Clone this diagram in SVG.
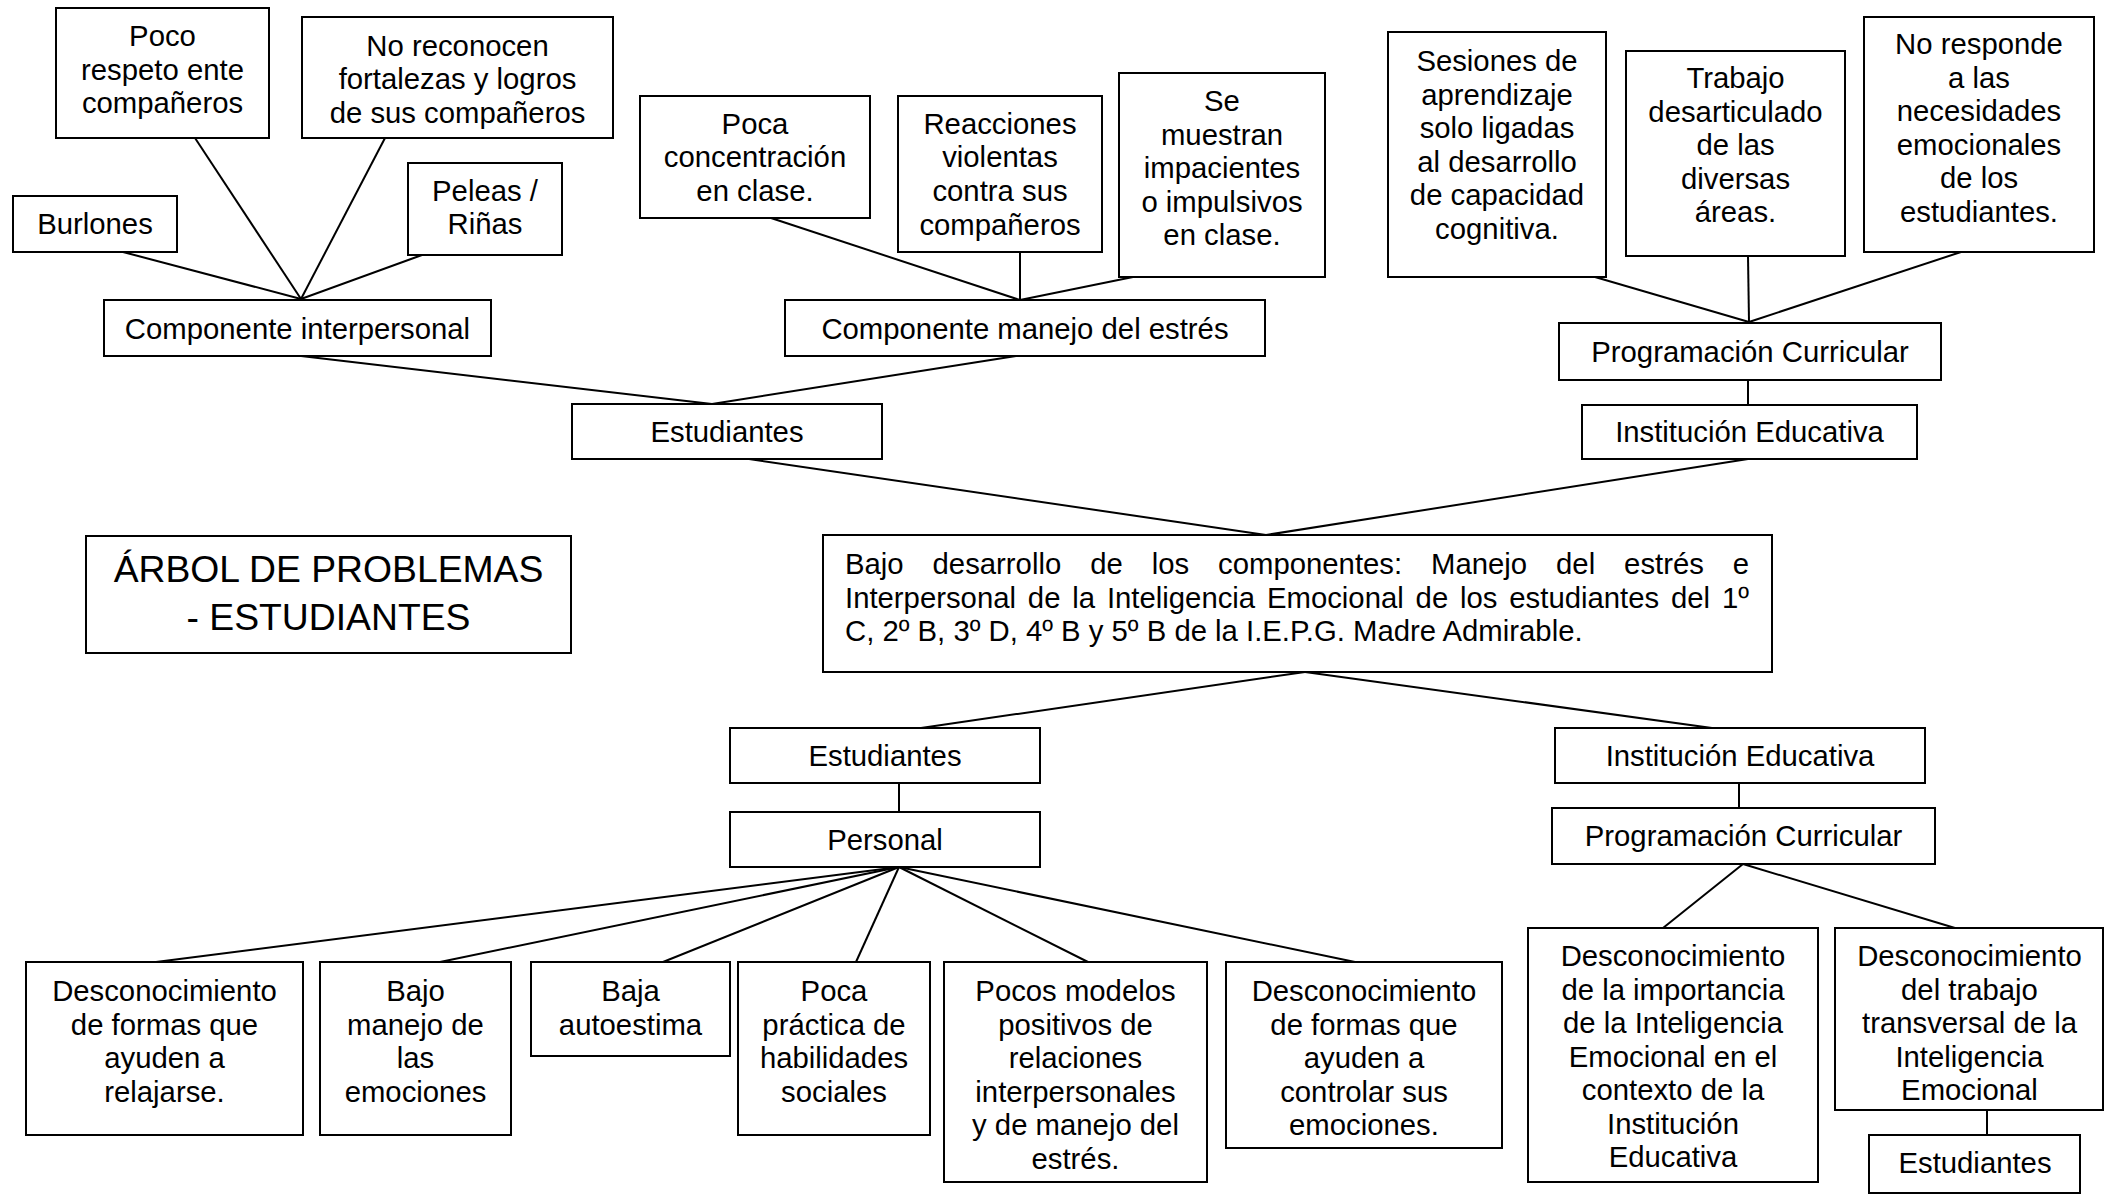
<svg xmlns="http://www.w3.org/2000/svg" width="2105" height="1195" viewBox="0 0 2105 1195">
<style>
.b{fill:#fff;stroke:#000;stroke-width:2}
.t{font-family:"Liberation Sans",Arial,sans-serif;font-size:29.3px;text-anchor:middle;fill:#000}
.j{font-family:"Liberation Sans",Arial,sans-serif;font-size:29.3px;text-anchor:start;fill:#000}
.h{font-family:"Liberation Sans",Arial,sans-serif;font-size:37.3px;text-anchor:middle;fill:#000}
.c line{stroke:#000;stroke-width:2}
</style>
<rect width="2105" height="1195" fill="#fff"/>
<g class="c" id="connectors">
<line x1="123" y1="252" x2="301" y2="299"/>
<line x1="195" y1="138" x2="301" y2="299"/>
<line x1="385" y1="138" x2="301" y2="299"/>
<line x1="422" y1="255" x2="301" y2="299"/>
<line x1="301" y1="356" x2="712" y2="404"/>
<line x1="1016" y1="356" x2="712" y2="404"/>
<line x1="771" y1="218" x2="1020" y2="300"/>
<line x1="1020" y1="252" x2="1020" y2="300"/>
<line x1="1133" y1="277" x2="1020" y2="300"/>
<line x1="1595" y1="277" x2="1749" y2="322"/>
<line x1="1748" y1="256" x2="1749" y2="322"/>
<line x1="1961" y1="252" x2="1749" y2="322"/>
<line x1="1748" y1="380" x2="1748" y2="405"/>
<line x1="749" y1="459" x2="1266" y2="535"/>
<line x1="1748" y1="459" x2="1266" y2="535"/>
<line x1="1305" y1="672" x2="921" y2="728"/>
<line x1="1305" y1="672" x2="1712" y2="728"/>
<line x1="899" y1="783" x2="899" y2="812"/>
<line x1="899" y1="867" x2="156" y2="962"/>
<line x1="899" y1="867" x2="440" y2="962"/>
<line x1="899" y1="867" x2="663" y2="962"/>
<line x1="899" y1="867" x2="856" y2="962"/>
<line x1="899" y1="867" x2="1088" y2="962"/>
<line x1="899" y1="867" x2="1355" y2="962"/>
<line x1="1739" y1="783" x2="1739" y2="808"/>
<line x1="1743" y1="864" x2="1663" y2="928"/>
<line x1="1743" y1="864" x2="1955" y2="928"/>
<line x1="1987" y1="1110" x2="1987" y2="1135"/>
</g>
<g id="n-poco"><rect class="b" x="56" y="8" width="213" height="130"/><text class="t"><tspan x="162.5" y="46">Poco</tspan><tspan x="162.5" y="80">respeto ente</tspan><tspan x="162.5" y="113">compañeros</tspan></text></g>
<g id="n-noreconocen"><rect class="b" x="302" y="17" width="311" height="121"/><text class="t"><tspan x="457.5" y="56">No reconocen</tspan><tspan x="457.5" y="89">fortalezas y logros</tspan><tspan x="457.5" y="123">de sus compañeros</tspan></text></g>
<g id="n-burlones"><rect class="b" x="13" y="196" width="164" height="56"/><text class="t" x="95" y="234">Burlones</text></g>
<g id="n-peleas"><rect class="b" x="408" y="163" width="154" height="92"/><text class="t"><tspan x="485" y="201">Peleas /</tspan><tspan x="485" y="234">Riñas</tspan></text></g>
<g id="n-ci"><rect class="b" x="104" y="300" width="387" height="56"/><text class="t" x="297.5" y="338.5">Componente interpersonal</text></g>
<g id="n-pocaconc"><rect class="b" x="640" y="96" width="230" height="122"/><text class="t"><tspan x="755" y="134">Poca</tspan><tspan x="755" y="167">concentración</tspan><tspan x="755" y="201">en clase.</tspan></text></g>
<g id="n-reacciones"><rect class="b" x="898" y="96" width="204" height="156"/><text class="t"><tspan x="1000" y="134">Reacciones</tspan><tspan x="1000" y="167">violentas</tspan><tspan x="1000" y="201">contra sus</tspan><tspan x="1000" y="235">compañeros</tspan></text></g>
<g id="n-semuestran"><rect class="b" x="1119" y="73" width="206" height="204"/><text class="t"><tspan x="1222" y="111">Se</tspan><tspan x="1222" y="144.5">muestran</tspan><tspan x="1222" y="178">impacientes</tspan><tspan x="1222" y="211.5">o impulsivos</tspan><tspan x="1222" y="245">en clase.</tspan></text></g>
<g id="n-cme"><rect class="b" x="785" y="300" width="480" height="56"/><text class="t" x="1025" y="338.5">Componente manejo del estrés</text></g>
<g id="n-sesiones"><rect class="b" x="1388" y="32" width="218" height="245"/><text class="t"><tspan x="1497" y="71">Sesiones de</tspan><tspan x="1497" y="104.5">aprendizaje</tspan><tspan x="1497" y="138">solo ligadas</tspan><tspan x="1497" y="171.5">al desarrollo</tspan><tspan x="1497" y="205">de capacidad</tspan><tspan x="1497" y="238.5">cognitiva.</tspan></text></g>
<g id="n-trabajo"><rect class="b" x="1626" y="51" width="219" height="205"/><text class="t"><tspan x="1735.5" y="88">Trabajo</tspan><tspan x="1735.5" y="121.5">desarticulado</tspan><tspan x="1735.5" y="155">de las</tspan><tspan x="1735.5" y="188.5">diversas</tspan><tspan x="1735.5" y="222">áreas.</tspan></text></g>
<g id="n-noresponde"><rect class="b" x="1864" y="17" width="230" height="235"/><text class="t"><tspan x="1979" y="54">No responde</tspan><tspan x="1979" y="87.5">a las</tspan><tspan x="1979" y="121">necesidades</tspan><tspan x="1979" y="154.5">emocionales</tspan><tspan x="1979" y="188">de los</tspan><tspan x="1979" y="221.5">estudiantes.</tspan></text></g>
<g id="n-pc-top"><rect class="b" x="1559" y="323" width="382" height="57"/><text class="t" x="1750" y="361.5">Programación Curricular</text></g>
<g id="n-ie-top"><rect class="b" x="1582" y="405" width="335" height="54"/><text class="t" x="1749.5" y="442">Institución Educativa</text></g>
<g id="n-est-top"><rect class="b" x="572" y="404" width="310" height="55"/><text class="t" x="727" y="442">Estudiantes</text></g>
<g id="n-central"><rect class="b" x="823" y="535" width="949" height="137"/><text class="j" x="845" y="574" style="word-spacing:20.8px">Bajo desarrollo de los componentes: Manejo del estrés e</text><text class="j" x="845" y="607.5" style="word-spacing:3.7px">Interpersonal de la Inteligencia Emocional de los estudiantes del 1º</text><text class="j" x="845" y="641">C, 2º B, 3º D, 4º B y 5º B de la I.E.P.G. Madre Admirable.</text></g>
<g id="n-titulo"><rect class="b" x="86" y="536" width="485" height="117"/><text class="h"><tspan x="328.5" y="582">ÁRBOL DE PROBLEMAS</tspan><tspan x="328.5" y="630">- ESTUDIANTES</tspan></text></g>
<g id="n-est-low"><rect class="b" x="730" y="728" width="310" height="55"/><text class="t" x="885" y="766">Estudiantes</text></g>
<g id="n-personal"><rect class="b" x="730" y="812" width="310" height="55"/><text class="t" x="885" y="850">Personal</text></g>
<g id="n-ie-low"><rect class="b" x="1555" y="728" width="370" height="55"/><text class="t" x="1740" y="766">Institución Educativa</text></g>
<g id="n-pc-low"><rect class="b" x="1552" y="808" width="383" height="56"/><text class="t" x="1743.5" y="845.5">Programación Curricular</text></g>
<g id="n-desc1"><rect class="b" x="26" y="962" width="277" height="173"/><text class="t"><tspan x="164.5" y="1001">Desconocimiento</tspan><tspan x="164.5" y="1034.5">de formas que</tspan><tspan x="164.5" y="1068">ayuden a</tspan><tspan x="164.5" y="1101.5">relajarse.</tspan></text></g>
<g id="n-bajomanejo"><rect class="b" x="320" y="962" width="191" height="173"/><text class="t"><tspan x="415.5" y="1001">Bajo</tspan><tspan x="415.5" y="1034.5">manejo de</tspan><tspan x="415.5" y="1068">las</tspan><tspan x="415.5" y="1101.5">emociones</tspan></text></g>
<g id="n-baja"><rect class="b" x="531" y="962" width="199" height="94"/><text class="t"><tspan x="630.5" y="1001">Baja</tspan><tspan x="630.5" y="1034.5">autoestima</tspan></text></g>
<g id="n-pocapractica"><rect class="b" x="738" y="962" width="192" height="173"/><text class="t"><tspan x="834" y="1001">Poca</tspan><tspan x="834" y="1034.5">práctica de</tspan><tspan x="834" y="1068">habilidades</tspan><tspan x="834" y="1101.5">sociales</tspan></text></g>
<g id="n-pocosmodelos"><rect class="b" x="944" y="962" width="263" height="220"/><text class="t"><tspan x="1075.5" y="1001">Pocos modelos</tspan><tspan x="1075.5" y="1034.5">positivos de</tspan><tspan x="1075.5" y="1068">relaciones</tspan><tspan x="1075.5" y="1101.5">interpersonales</tspan><tspan x="1075.5" y="1135">y de manejo del</tspan><tspan x="1075.5" y="1168.5">estrés.</tspan></text></g>
<g id="n-desc2"><rect class="b" x="1226" y="962" width="276" height="186"/><text class="t"><tspan x="1364" y="1001">Desconocimiento</tspan><tspan x="1364" y="1034.5">de formas que</tspan><tspan x="1364" y="1068">ayuden a</tspan><tspan x="1364" y="1101.5">controlar sus</tspan><tspan x="1364" y="1135">emociones.</tspan></text></g>
<g id="n-desc3"><rect class="b" x="1528" y="928" width="290" height="254"/><text class="t"><tspan x="1673" y="966">Desconocimiento</tspan><tspan x="1673" y="999.5">de la importancia</tspan><tspan x="1673" y="1033">de la Inteligencia</tspan><tspan x="1673" y="1066.5">Emocional en el</tspan><tspan x="1673" y="1100">contexto de la</tspan><tspan x="1673" y="1133.5">Institución</tspan><tspan x="1673" y="1167">Educativa</tspan></text></g>
<g id="n-desc4"><rect class="b" x="1835" y="928" width="268" height="182"/><text class="t"><tspan x="1969.5" y="966">Desconocimiento</tspan><tspan x="1969.5" y="999.5">del trabajo</tspan><tspan x="1969.5" y="1033">transversal de la</tspan><tspan x="1969.5" y="1066.5">Inteligencia</tspan><tspan x="1969.5" y="1100">Emocional</tspan></text></g>
<g id="n-est-br"><rect class="b" x="1869" y="1135" width="211" height="58"/><text class="t" x="1975" y="1173">Estudiantes</text></g>
</svg>
